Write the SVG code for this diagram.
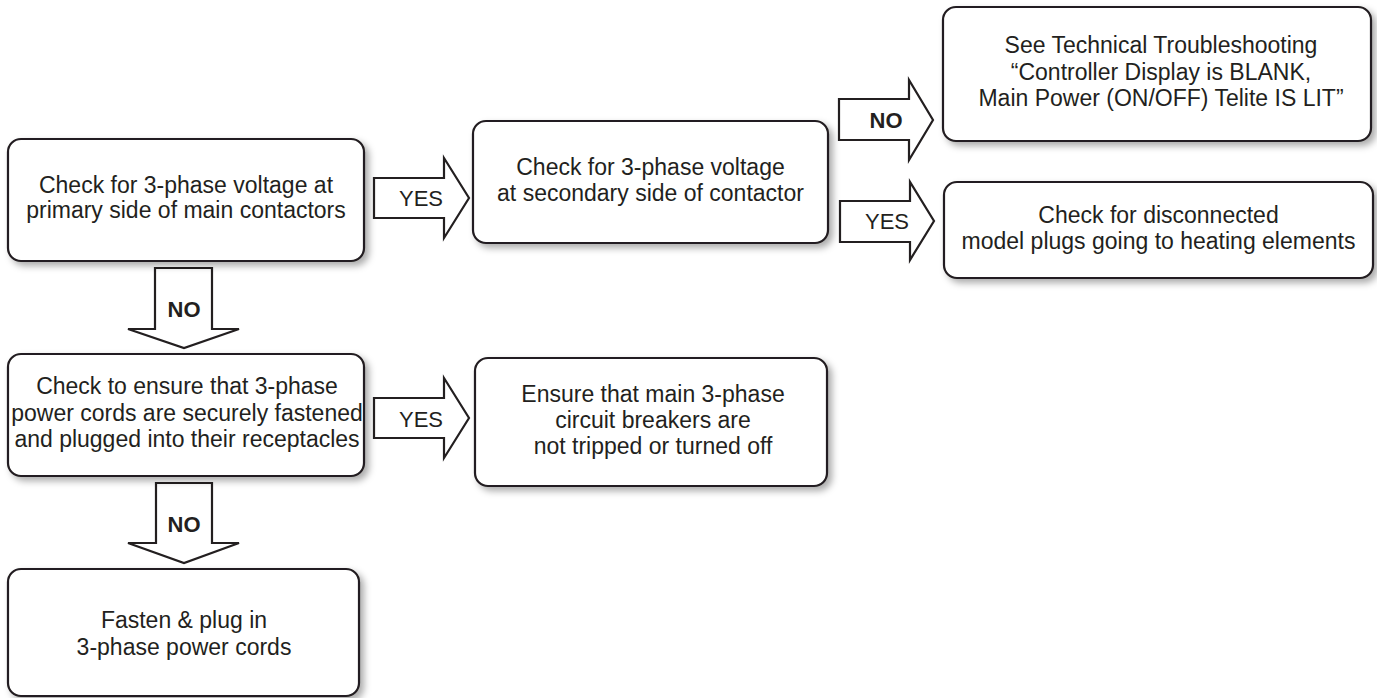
<svg xmlns="http://www.w3.org/2000/svg" width="1377" height="698" viewBox="0 0 1377 698">
<style>
.box{fill:#fff;stroke:#231f20;stroke-width:2.2;filter:url(#sh)}
.arr{fill:#fff;stroke:#231f20;stroke-width:2.2;stroke-linejoin:miter}
.t{font-family:"Liberation Sans",Arial,sans-serif;font-size:23px;fill:#231f20;text-anchor:middle}
.yes{font-family:"Liberation Sans",Arial,sans-serif;font-size:22px;fill:#231f20;text-anchor:middle}
.no{font-family:"Liberation Sans",Arial,sans-serif;font-size:22px;font-weight:bold;fill:#231f20;text-anchor:middle}
</style>
<defs>
<filter id="sh" x="-10%" y="-20%" width="125%" height="150%">
<feDropShadow dx="4" dy="4" stdDeviation="3.5" flood-color="#000" flood-opacity="0.33"/>
</filter>
</defs>
<rect width="1377" height="698" fill="#fff"/>
<g id="connectors">
<g id="c1"><polygon class="arr" points="374,178 444,178 444,158 469,198 444,238 444,218 374,218"/><text class="yes" x="421" y="206">YES</text></g>
<g id="c2"><polygon class="arr" points="155,268 212,268 212,329 239,329 184,348 128,329 155,329"/><text class="no" x="184" y="317">NO</text></g>
<g id="c3"><polygon class="arr" points="839,99 909,99 909,80 933,120 909,160 909,140 839,140"/><text class="no" x="886" y="128">NO</text></g>
<g id="c4"><polygon class="arr" points="840,201 910,201 910,182 934,221 910,260 910,242 840,242"/><text class="yes" x="887" y="229">YES</text></g>
<g id="c5"><polygon class="arr" points="374,398 444,398 444,378 469,418 444,458 444,438 374,438"/><text class="yes" x="421" y="427">YES</text></g>
<g id="c6"><polygon class="arr" points="156,483 212,483 212,543 239,543 184,563 128,543 156,543"/><text class="no" x="184" y="532">NO</text></g>
</g>
<g id="n1"><rect class="box" x="8" y="139" width="356" height="122" rx="13"/>
<text class="t" x="186" y="193">Check for 3-phase voltage at</text>
<text class="t" x="186" y="218">primary side of main contactors</text></g>
<g id="n2"><rect class="box" x="473" y="121" width="355" height="122" rx="13"/>
<text class="t" x="650.5" y="175">Check for 3-phase voltage</text>
<text class="t" x="650.5" y="201">at secondary side of contactor</text></g>
<g id="n3"><rect class="box" x="943" y="7" width="428" height="134" rx="13"/>
<text class="t" x="1161" y="53">See Technical Troubleshooting</text>
<text class="t" x="1161" y="80">“Controller Display is BLANK,</text>
<text class="t" x="1161" y="106">Main Power (ON/OFF) Telite IS LIT”</text></g>
<g id="n4"><rect class="box" x="944" y="182" width="429" height="96" rx="13"/>
<text class="t" x="1158.5" y="223">Check for disconnected</text>
<text class="t" x="1158.5" y="249">model plugs going to heating elements</text></g>
<g id="n5"><rect class="box" x="8" y="354" width="356" height="122" rx="13"/>
<text class="t" x="187" y="394">Check to ensure that 3-phase</text>
<text class="t" x="187" y="420.5">power cords are securely fastened</text>
<text class="t" x="187" y="446.5">and plugged into their receptacles</text></g>
<g id="n6"><rect class="box" x="475" y="358" width="352" height="128" rx="13"/>
<text class="t" x="653" y="402">Ensure that main 3-phase</text>
<text class="t" x="653" y="428">circuit breakers are</text>
<text class="t" x="653" y="454">not tripped or turned off</text></g>
<g id="n7"><rect class="box" x="8" y="569" width="351" height="127" rx="13"/>
<text class="t" x="184" y="628">Fasten &amp; plug in</text>
<text class="t" x="184" y="655">3-phase power cords</text></g>
</svg>
